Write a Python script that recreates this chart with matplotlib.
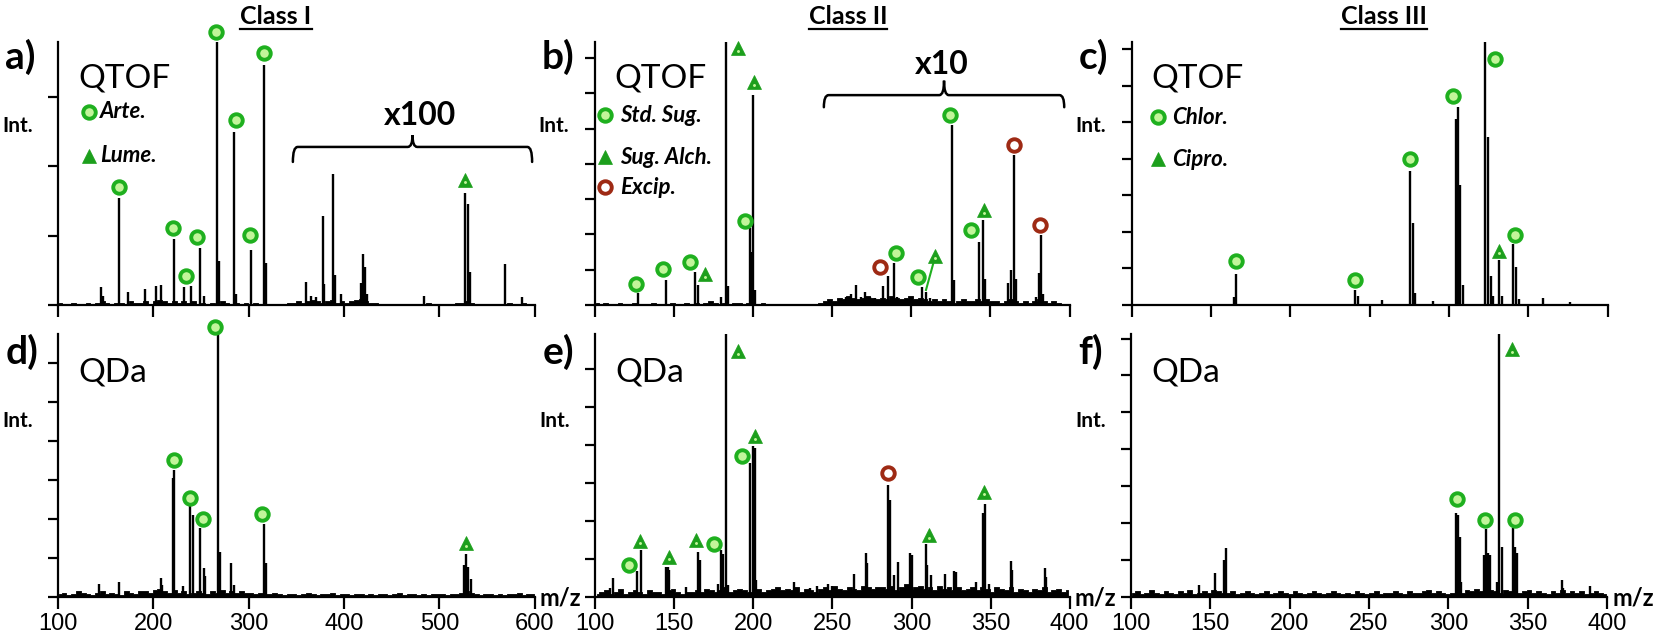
import numpy as np
import matplotlib
matplotlib.use('Agg')
import matplotlib.pyplot as plt
from matplotlib.lines import Line2D
from matplotlib.path import Path
from matplotlib.patches import PathPatch

W, H = 1658, 641
FONT = 'Lato'
TICKFONT = 'Liberation Sans'

GREEN = '#1fb01f'
GREEN_LIGHT = '#c2f59a'
TRI = '#1c9f1c'
RED = '#9e2a14'

# ---------------- spectra (m/z, relative intensity %) ----------------
a_mz = [145.0, 147.5, 163.7, 173.5, 191.0, 203.0, 208.0, 221.4, 231.6, 239.4, 249.2, 252.5,
        266.4, 269.0, 284.4, 286.3, 302.0, 316.3, 318.0,
        360.0, 365.0, 371.0, 377.4, 379.4, 388.6, 390.5, 397.0, 418.0, 420.0, 422.0, 424.0,
        483.8, 527.3, 529.9, 531.8, 568.5, 587.0]
a_int = [6.7, 3.5, 40.8, 4.9, 6.0, 7.2, 7.6, 25.1, 7.0, 7.2, 21.8, 3.5,
         100, 16.7, 65.6, 4.0, 20.9, 91.3, 15.8,
         8.6, 3.5, 3.0, 33.8, 8.0, 49.9, 11.4, 4.0, 8.5, 19.4, 14.6, 4.0,
         3.5, 42.7, 38.4, 12.7, 15.6, 3.2]

b_mz = [127.1, 144.9, 163.2, 165.4, 180.0, 182.8, 184.2, 198.1, 198.8, 200.1, 201.5,
        259.0, 262.0, 265.0, 268.0, 270.8, 274.0, 277.0, 282.0, 285.4, 288.8, 291.0, 295.0,
        300.0, 306.9, 309.0, 312.0, 325.6, 326.8, 342.5, 345.2, 346.3, 361.0, 363.2, 365.0,
        366.2, 378.6, 380.8, 382.2, 383.5]
b_int = [4.4, 9.5, 12.7, 7.6, 3.2, 100, 7.2, 29.1, 20.0, 80.0, 5.7,
         3.0, 4.0, 7.6, 3.0, 4.9, 3.0, 2.5, 7.2, 11.0, 16.1, 3.0, 2.0,
         2.5, 6.7, 5.0, 2.5, 68.4, 9.5, 24.0, 32.3, 10.0, 8.2, 13.3, 57.2,
         10.0, 3.2, 12.0, 26.6, 4.0]

c_mz = [164.8, 165.5, 240.9, 242.5, 257.5, 275.3, 277.2, 278.8, 290.0, 304.3, 305.5, 307.1,
        309.0, 322.9, 324.5, 326.3, 327.5, 331.5, 333.4, 340.3, 342.0, 343.8, 358.9, 376.0]
c_int = [3.0, 11.8, 5.7, 3.5, 2.0, 51.0, 31.3, 4.4, 1.6, 70.9, 75.3, 45.6,
         7.6, 100, 63.9, 11.0, 3.5, 17.3, 3.5, 23.2, 14.6, 2.3, 2.8, 1.0]

d_mz = [142.7, 163.7, 207.6, 209.0, 220.3, 221.4, 230.8, 238.7, 241.3, 249.2, 252.5, 254.0,
        267.2, 269.4, 281.8, 284.8, 316.3, 318.1, 526.2, 528.0, 530.6, 532.9]
d_int = [4.7, 5.7, 7.0, 4.5, 45.0, 48.1, 4.2, 34.4, 31.0, 26.2, 10.8, 8.0,
         100, 17.0, 12.7, 4.5, 27.8, 12.7, 12.0, 16.2, 11.4, 6.6]

e_mz = [109.0, 111.3, 126.4, 128.9, 144.5, 145.8, 146.7, 157.6, 165.1, 166.0, 177.3, 179.7,
        180.9, 182.5, 184.0, 197.8, 199.8, 201.0, 201.7, 225.4, 236.0, 240.0, 247.0, 250.0,
        263.8, 271.0, 272.1, 285.2, 286.4, 288.6, 291.6, 299.2, 300.3, 309.0, 310.1, 312.4,
        320.9, 327.0, 328.1, 341.0, 345.1, 346.2, 349.0, 362.7, 363.5, 384.2, 385.3]
e_int = [3.5, 7.0, 9.8, 17.8, 11.4, 11.4, 10.0, 3.8, 17.2, 14.0, 4.7, 17.8,
         16.3, 100, 4.4, 50.8, 57.2, 56.5, 6.4, 5.7, 3.5, 4.0, 5.0, 4.0,
         8.6, 16.8, 12.7, 42.6, 36.8, 8.3, 13.3, 16.5, 15.9, 19.9, 11.9, 8.3,
         8.6, 9.9, 9.5, 5.7, 31.8, 35.2, 5.0, 13.7, 10.0, 10.8, 7.6]

f_mz = [142.7, 152.7, 158.6, 159.7, 304.8, 305.9, 307.1, 308.2, 322.7, 323.4, 325.2, 326.1,
        330.8, 332.2, 333.8, 340.8, 342.0, 343.1, 371.7, 372.5, 389.0]
f_int = [4.4, 9.1, 14.0, 18.7, 32.0, 31.0, 22.6, 5.7, 15.9, 25.7, 16.8, 15.9,
         5.7, 100, 19.1, 26.0, 19.1, 16.5, 6.4, 3.5, 4.0]

# baseline noise, one digit per point across the m/z range
a_noise = ("21121121232122132231" "34323232312121321212" "12110111223234323423"
           "23453221110111111211" "11122321111011211211")
b_noise = ("10100100100010001001" "01012101011010010000" "00000001232435434543"
           "43543453432323212322" "32322123212123212100")
c_noise = ("00010000010000100000" "00001000000100000100" "00000100001000100001"
           "00100010000100010000" "01000100001000000100")
d_noise = ("23124321342321432443" "56435342343243534343" "32322321221232122312"
           "21221212212312212122" "21223432122121223122")
e_noise = ("23423523432433245323" "34354346345434534564" "54635435647546547656"
           "65746856756475646456" "46536546354354634534")
f_noise = ("34235324324352343543" "34234323423432432343" "23432324323423343243"
           "34534323435464354354" "43453432435343423432")

# annotation markers (m/z, intensity)
a_circ_mz = [163.7, 220.7, 234.2, 246.2, 266.0, 286.6, 301.6, 316.3]
a_circ_int = [44.7, 29.4, 11.0, 25.8, 103.7, 70.5, 26.5, 95.9]
a_tri_mz, a_tri_int = [527.3], [47.7]

b_circ_mz = [126.4, 143.3, 160.5, 194.7, 290.4, 304.1, 324.4, 337.7]
b_circ_int = [8.0, 13.7, 16.2, 31.9, 19.6, 10.5, 72.2, 28.7]
b_tri_mz = [169.7, 190.7, 200.4, 314.7, 345.9]
b_tri_int = [11.7, 97.7, 84.8, 18.7, 36.1]
b_red_mz = [280.4, 365.0, 381.5]
b_red_int = [14.3, 60.8, 30.4]
b_link_mz, b_link_int = [309.3, 313.9], [5.7, 15.8]

c_circ_mz = [165.9, 240.9, 275.3, 302.7, 328.9, 341.5]
c_circ_int = [16.6, 9.5, 55.6, 79.5, 93.7, 26.8]
c_tri_mz, c_tri_int = [331.5], [20.6]

d_circ_mz = [221.4, 238.7, 251.8, 264.9, 313.6]
d_circ_int = [52.2, 37.5, 29.4, 102.7, 31.5]
d_tri_mz, d_tri_int = [528.0], [20.3]

e_circ_mz = [121.5, 175.0, 192.6]
e_circ_int = [11.9, 20.1, 53.7]
e_tri_mz = [128.5, 146.3, 163.9, 189.9, 201.2, 311.2, 345.8]
e_tri_int = [21.3, 15.2, 21.6, 93.4, 61.0, 23.5, 40.0]
e_red_mz, e_red_int = [285.2], [47.0]

f_circ_mz = [305.3, 322.9, 341.9]
f_circ_int = [37.1, 29.2, 29.2]
f_tri_mz, f_tri_int = [340.3], [94.3]

classes = ['Class I', 'Class II', 'Class III']
legend_a = ['Arte.', 'Lume.']
legend_b = ['Std. Sug.', 'Sug. Alch.', 'Excip.']
legend_c = ['Chlor.', 'Cipro.']


def fx(x):
    return x / W


def fy(y):
    return 1 - y / H


def circles(ax, xs, ys, edge=GREEN, face=GREEN_LIGHT):
    ax.plot(xs, ys, 'o', ms=9, mfc=face, mec=edge, mew=2.8, clip_on=False, zorder=6)


def triangles(ax, xs, ys):
    ax.plot(xs, ys, '^', ms=10.5, mfc=TRI, mec=TRI, mew=0.5, clip_on=False, zorder=6)
    ax.plot(xs, np.array(ys) - 1.0, '.', ms=2.2, color=GREEN_LIGHT, clip_on=False, zorder=7)


def brace(ax, x0, x1, y, drop, tip, rx):
    xm = (x0 + x1) / 2
    verts = [(x0, y - drop), (x0, y), (x0 + rx, y),
             (xm - rx, y), (xm, y), (xm, y + tip),
             (xm, y), (xm + rx, y),
             (x1 - rx, y), (x1, y), (x1, y - drop)]
    codes = [Path.MOVETO, Path.CURVE3, Path.CURVE3,
             Path.LINETO, Path.CURVE3, Path.CURVE3,
             Path.CURVE3, Path.CURVE3,
             Path.LINETO, Path.CURVE3, Path.CURVE3]
    ax.add_patch(PathPatch(Path(verts, codes), fill=False, lw=1.8, ec='black',
                           clip_on=False, capstyle='round'))


fig = plt.figure(figsize=(W / 100, H / 100), dpi=100)

# pixel boxes: left, top, right, bottom
panels = [
    ('a', (58.2, 42, 534.6, 305), (100, 600, 100), 26.4, 4, a_mz, a_int, a_noise, 0.45, 'QTOF'),
    ('b', (594.6, 42, 1069.6, 305), (100, 400, 50), 13.42, 8, b_mz, b_int, b_noise, 0.7, 'QTOF'),
    ('c', (1131.6, 42, 1607.8, 305), (100, 400, 50), 13.9, 8, c_mz, c_int, c_noise, 0.5, 'QTOF'),
    ('d', (58.2, 334, 534.6, 596.7), (100, 600, 100), 14.8, 7, d_mz, d_int, d_noise, 0.5, 'QDa'),
    ('e', (595.4, 334, 1069.6, 596.7), (100, 400, 50), 14.43, 7, e_mz, e_int, e_noise, 0.6, 'QDa'),
    ('f', (1130.9, 334, 1607.1, 596.7), (100, 400, 50), 14.04, 8, f_mz, f_int, f_noise, 0.5, 'QDa'),
]

axes = {}
for key, (l, t, r, b), (x0, x1, xs), ystep, ny, mz, inten, noise, unit, inst in panels:
    ax = fig.add_axes([fx(l), fy(b), (r - l) / W, (b - t) / H])
    axes[key] = ax
    nz = np.array([int(ch) for ch in noise]) * unit
    nx = np.linspace(x0 + 1, x1 - 1, len(nz))
    ax.fill_between(nx, 0, nz, step='mid', color='black', lw=0.6)
    ax.vlines(mz, 0, inten, color='black', lw=1.7)
    ax.set_xlim(x0, x1)
    ax.set_ylim(0, 100)
    ax.set_xticks(np.arange(x0, x1 + 1, xs))
    ax.set_yticks(np.arange(ny) * ystep)
    ax.set_yticklabels([])
    for s in ('top', 'right'):
        ax.spines[s].set_visible(False)
    for s in ('left', 'bottom'):
        ax.spines[s].set_linewidth(1.6)
    ax.tick_params(axis='x', length=8.5, width=1.6, labelsize=17, pad=3,
                   labelbottom=key in 'def')
    ax.tick_params(axis='y', length=7, width=1.6)
    for lab in ax.get_xticklabels():
        lab.set_fontfamily(TICKFONT)
    row_y = 57 if key in 'abc' else 352
    fig.text(fx(l - 53), fy(row_y), key + ')', fontsize=28, fontweight='bold',
             family=FONT, ha='left', va='center')
    fig.text(fx(l - 56), fy(126 if key in 'abc' else 421), 'Int.', fontsize=15,
             fontweight='bold', family=FONT, ha='left', va='center')
    fig.text(fx(l + 20), fy(78 if key in 'abc' else 372), inst, fontsize=24,
             family=FONT, ha='left', va='center')
    if key in 'def':
        fig.text(fx(r + 5), fy(598), 'm/z', fontsize=17, fontweight='bold',
                 family=FONT, ha='left', va='center')

# markers on peaks
circles(axes['a'], a_circ_mz, a_circ_int)
triangles(axes['a'], a_tri_mz, a_tri_int)
circles(axes['b'], b_circ_mz, b_circ_int)
triangles(axes['b'], b_tri_mz, b_tri_int)
circles(axes['b'], b_red_mz, b_red_int, edge=RED, face='white')
axes['b'].plot(b_link_mz, b_link_int, color=GREEN, lw=1.5)
circles(axes['c'], c_circ_mz, c_circ_int)
triangles(axes['c'], c_tri_mz, c_tri_int)
circles(axes['d'], d_circ_mz, d_circ_int)
triangles(axes['d'], d_tri_mz, d_tri_int)
circles(axes['e'], e_circ_mz, e_circ_int)
triangles(axes['e'], e_tri_mz, e_tri_int)
circles(axes['e'], e_red_mz, e_red_int, edge=RED, face='white')
circles(axes['f'], f_circ_mz, f_circ_int)
triangles(axes['f'], f_tri_mz, f_tri_int)

# magnification braces
brace(axes['a'], 346.3, 597.4, 60.1, 5.7, 4.5, 5)
axes['a'].text(480, 72, 'x100', fontsize=23, fontweight='bold', family=FONT,
               ha='center', va='center')
brace(axes['b'], 244.8, 396.6, 79.8, 4.6, 5.5, 3)
axes['b'].text(319.5, 91.6, 'x10', fontsize=23, fontweight='bold', family=FONT,
               ha='center', va='center')

# legends (figure pixel positions)
legends = [
    (89, 100, [112, 156], legend_a, ['c', 't']),
    (605, 620, [115, 157, 187], legend_b, ['c', 't', 'r']),
    (1158, 1172, [117, 159], legend_c, ['c', 't']),
]
for mx, tx, ys, labels, kinds in legends:
    for yy, lab, kind in zip(ys, labels, kinds):
        if kind == 't':
            fig.add_artist(Line2D([fx(mx)], [fy(yy)], marker='^', ms=10.5, mfc=TRI,
                                  mec=TRI, mew=0.5, transform=fig.transFigure))
        else:
            ec = RED if kind == 'r' else GREEN
            fc = 'white' if kind == 'r' else GREEN_LIGHT
            fig.add_artist(Line2D([fx(mx)], [fy(yy)], marker='o', ms=9, mfc=fc,
                                  mec=ec, mew=2.8, transform=fig.transFigure))
        fig.text(fx(tx), fy(yy), lab, fontsize=16, fontweight='bold',
                 fontstyle='italic', family=FONT, ha='left', va='center')

# class titles, underlined
titles = []
for cx, name in zip([276, 848, 1384], classes):
    titles.append(fig.text(fx(cx), fy(16), name, fontsize=18, fontweight='bold',
                           family=FONT, ha='center', va='center'))
fig.canvas.draw()
rend = fig.canvas.get_renderer()
for t in titles:
    bb = t.get_window_extent(rend)
    fig.add_artist(Line2D([bb.x0 / W, bb.x1 / W], [fy(29), fy(29)], color='black',
                          lw=1.6, transform=fig.transFigure))

fig.savefig('out.png', dpi=100)
